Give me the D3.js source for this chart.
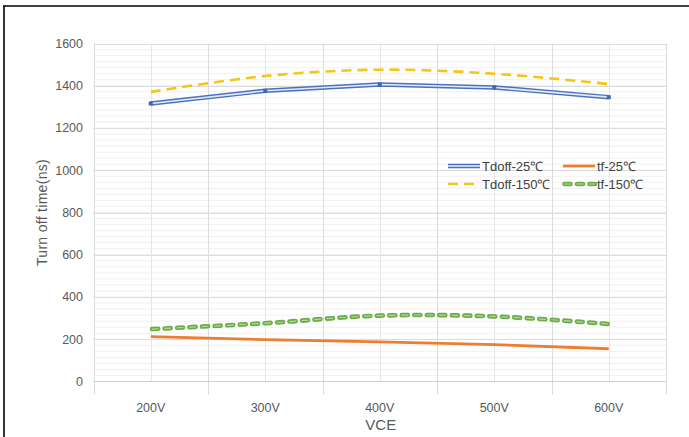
<!DOCTYPE html>
<html><head><meta charset="utf-8">
<script src="https://cdn.jsdelivr.net/npm/d3@7"></script>
<style>
html,body{margin:0;padding:0;background:#fff;}
svg{display:block;}
text{font-family:"Liberation Sans Narrow","Liberation Sans",Arial,sans-serif;}
</style></head>
<body>
<svg id="chart" width="689" height="437"></svg>
<script>
const categories = ["200V","300V","400V","500V","600V"];
const tdoff25  = [1316, 1376, 1406, 1392, 1346];
const tdoff150 = [1371, 1446, 1476, 1457, 1408];
const tf25     = [212, 198, 188, 175, 155];
const tf150    = [248, 276, 312, 308, 272];
const yTicks   = [0, 200, 400, 600, 800, 1000, 1200, 1400, 1600];
const seriesNames = ["Tdoff-25℃", "tf-25℃", "Tdoff-150℃", "tf-150℃"];

(function(){
const svg = d3.select("#chart");
const pLeft = 93.5, pRight = 666, pTop = 43.5, pBottom = 381.5;

const x = d3.scaleBand().domain(categories).range([pLeft, pRight]).padding(0);
const y = d3.scaleLinear().domain([0, 1600]).range([pBottom, pTop]);

svg.append("line").attr("x1",3).attr("x2",689).attr("y1",6).attr("y2",6).attr("stroke","#000").attr("stroke-width",1.6);
svg.append("line").attr("x1",4).attr("x2",4).attr("y1",6).attr("y2",437).attr("stroke","#000").attr("stroke-width",1.6);

const minor = d3.range(0, 1600, 200/7).filter(v => v > 0);
svg.append("g").selectAll("line").data(minor).join("line")
  .attr("x1", pLeft).attr("x2", pRight)
  .attr("y1", d => y(d)).attr("y2", d => y(d))
  .attr("stroke", "#f0f0f0").attr("stroke-width", 1);

svg.append("g").selectAll("line").data(yTicks.filter(v => v > 0)).join("line")
  .attr("x1", pLeft).attr("x2", pRight)
  .attr("y1", d => Math.round(y(d)) + 0.5).attr("y2", d => Math.round(y(d)) + 0.5)
  .attr("stroke", "#dcdcdc").attr("stroke-width", 1);

const bounds = categories.map(c => x(c)).concat([pRight]);
svg.append("g").selectAll("line").data(bounds).join("line")
  .attr("x1", d => Math.round(d) + 0.5).attr("x2", d => Math.round(d) + 0.5)
  .attr("y1", pTop).attr("y2", pBottom + 13)
  .attr("stroke", "#dcdcdc").attr("stroke-width", 1);
svg.append("g").selectAll("line").data(categories).join("line")
  .attr("x1", d => Math.round(x(d) + x.bandwidth()/2) + 0.5).attr("x2", d => Math.round(x(d) + x.bandwidth()/2) + 0.5)
  .attr("y1", pTop).attr("y2", pBottom)
  .attr("stroke", "#e6e6e6").attr("stroke-width", 1);

svg.append("line").attr("x1", pLeft).attr("x2", pRight).attr("y1", pBottom).attr("y2", pBottom)
  .attr("stroke", "#d0d0d0").attr("stroke-width", 1);

svg.append("g").selectAll("text").data(yTicks).join("text")
  .attr("x", 83).attr("y", d => y(d)).attr("dy", "0.35em")
  .attr("text-anchor", "end").attr("font-size", 12.5).attr("fill", "#595959")
  .text(d => d);

svg.append("g").selectAll("text").data(categories).join("text")
  .attr("x", d => x(d) + x.bandwidth()/2).attr("y", 412)
  .attr("text-anchor", "middle").attr("font-size", 12.5).attr("fill", "#595959")
  .text(d => d);

svg.append("text").attr("x", (pLeft + pRight)/2 + 1).attr("y", 430)
  .attr("text-anchor", "middle").attr("font-size", 15).attr("fill", "#595959").text("VCE");
svg.append("text").attr("transform", "translate(47," + ((pTop + pBottom)/2) + ") rotate(-90)")
  .attr("text-anchor", "middle").attr("font-size", 14).attr("fill", "#595959")
  .attr("letter-spacing", "0.3px").text("Turn off time(ns)");

const cx = d => x(d) + x.bandwidth()/2;
function pts(vals){ return categories.map((c,i) => [cx(c), y(vals[i])]); }
const lineLin = d3.line().curve(d3.curveLinear);
const lineSmooth = d3.line().curve(d3.curveCatmullRom.alpha(0.5));

function drawBlue(g, path){
  g.append("path").attr("d", path).attr("fill","none").attr("stroke","#4a72c0").attr("stroke-width",4.5);
  g.append("path").attr("d", path).attr("fill","none").attr("stroke","#e4ebf7").attr("stroke-width",1.6);
}
function drawOrange(g, path){
  g.append("path").attr("d", path).attr("fill","none").attr("stroke","#ed7d31").attr("stroke-width",2.8);
}
function drawYellow(g, path){
  g.append("path").attr("d", path).attr("fill","none").attr("stroke","#f5c518").attr("stroke-width",2.6)
    .attr("stroke-dasharray","10,6");
}
function drawGreen(g, path){
  g.append("path").attr("d", path).attr("fill","none").attr("stroke","#6aac46").attr("stroke-width",4.6)
    .attr("stroke-dasharray","6,6.5").attr("stroke-dashoffset", -1.5).attr("stroke-linecap","round");
  g.append("path").attr("d", path).attr("fill","none").attr("stroke","#b4d89c").attr("stroke-width",1.2)
    .attr("stroke-dasharray","7,5.5").attr("stroke-dashoffset", -1);
}

const gl = svg.append("g");
drawYellow(gl, lineSmooth(pts(tdoff150)));
drawBlue(gl, lineLin(pts(tdoff25)));
drawGreen(gl, lineSmooth(pts(tf150)));
drawOrange(gl, lineLin(pts(tf25)));

gl.selectAll("rect.m").data(pts(tdoff25)).join("rect")
  .attr("x", d => d[0]-2).attr("y", d => d[1]-2).attr("width",4).attr("height",4)
  .attr("fill","#3f66b3");

const legend = [
  {name: seriesNames[0], draw: drawBlue,   x: 448, y: 166},
  {name: seriesNames[1], draw: drawOrange, x: 563, y: 166},
  {name: seriesNames[2], draw: drawYellow, x: 448, y: 184},
  {name: seriesNames[3], draw: drawGreen,  x: 563, y: 184}
];
legend.forEach(l => {
  const g = svg.append("g");
  l.draw(g, lineLin([[l.x, l.y], [l.x + 32, l.y]]));
  g.append("text").attr("x", l.x + 34).attr("y", l.y).attr("dy","0.35em")
    .attr("font-size", 13).attr("fill", "#404040").text(l.name);
});
})();
</script>
</body></html>
